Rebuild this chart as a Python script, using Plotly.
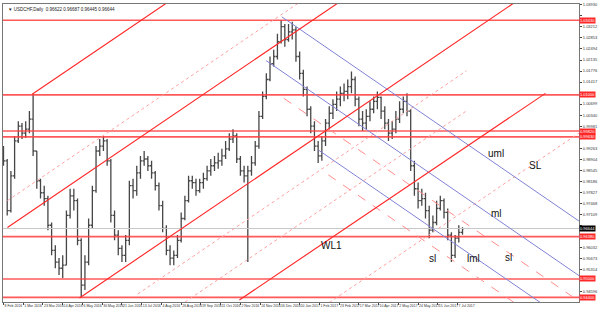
import plotly.graph_objects as go

# ---------------- price data (USDCHF daily, sampled every 3rd session) ----------------
bar_day = list(range(0, 375, 3))
closes = [0.9885, 0.9723, 0.9836, 0.9950, 0.9998, 0.9975, 0.9988, 1.0021, 0.9917, 0.9820,
          0.9781, 0.9762, 0.9675, 0.9593, 0.9555, 0.9535, 0.9545, 0.9707, 0.9771, 0.9755,
          0.9626, 0.9480, 0.9555, 0.9675, 0.9788, 0.9917, 0.9933, 0.9950, 0.9885, 0.9707,
          0.9643, 0.9600, 0.9577, 0.9626, 0.9804, 0.9788, 0.9846, 0.9885, 0.9891, 0.9869,
          0.9846, 0.9804, 0.9739, 0.9665, 0.9593, 0.9568, 0.9577, 0.9626, 0.9697, 0.9755,
          0.9820, 0.9814, 0.9788, 0.9814, 0.9827, 0.9852, 0.9869, 0.9878, 0.9885, 0.9901,
          0.9924, 0.9956, 0.9966, 0.9891, 0.9852, 0.9836, 0.9852, 0.9878, 0.9933, 1.0030,
          1.0095, 1.0150, 1.0202, 1.0225, 1.0273, 1.0322, 1.0280, 1.0305, 1.0312, 1.0225,
          1.0170, 1.0118, 1.0053, 0.9998, 0.9933, 0.9901, 0.9950, 1.0008, 1.0040, 1.0069,
          1.0086, 1.0105, 1.0111, 1.0127, 1.0150, 1.0086, 1.0021, 1.0008, 1.0030, 1.0053,
          1.0079, 1.0092, 1.0047, 1.0008, 0.9975, 0.9988, 1.0021, 1.0053, 1.0079, 1.0047,
          0.9869, 0.9794, 0.9755, 0.9762, 0.9723, 0.9659, 0.9684, 0.9730, 0.9755, 0.9717,
          0.9643, 0.9577, 0.9633, 0.9652, 0.96644]
highs = [0.9933, 0.9891, 0.9852, 0.9966, 1.0014, 1.0008, 1.0014, 1.0047, 1.0102, 0.9917,
         0.9827, 0.9804, 0.9771, 0.9684, 0.9610, 0.9568, 0.9577, 0.9723, 0.9794, 0.9794,
         0.9762, 0.9633, 0.9577, 0.9697, 0.9804, 0.9933, 0.9956, 0.9966, 0.9956, 0.9891,
         0.9723, 0.9659, 0.9610, 0.9643, 0.9820, 0.9827, 0.9869, 0.9901, 0.9917, 0.9901,
         0.9885, 0.9852, 0.9814, 0.9755, 0.9675, 0.9610, 0.9593, 0.9643, 0.9717, 0.9771,
         0.9836, 0.9836, 0.9827, 0.9827, 0.9846, 0.9869, 0.9891, 0.9901, 0.9911, 0.9924,
         0.9950, 0.9975, 0.9988, 0.9975, 0.9901, 0.9869, 0.9869, 0.9901, 0.9950, 1.0047,
         1.0111, 1.0170, 1.0225, 1.0247, 1.0299, 1.0344, 1.0331, 1.0331, 1.0338, 1.0322,
         1.0241, 1.0182, 1.0127, 1.0063, 1.0014, 0.9950, 0.9966, 1.0021, 1.0063, 1.0086,
         1.0111, 1.0127, 1.0137, 1.0150, 1.0176, 1.0160, 1.0095, 1.0047, 1.0053, 1.0079,
         1.0095, 1.0111, 1.0095, 1.0063, 1.0021, 1.0014, 1.0047, 1.0079, 1.0095, 1.0105,
         1.0053, 0.9885, 0.9814, 0.9794, 0.9781, 0.9739, 0.9707, 0.9755, 0.9771, 0.9762,
         0.9730, 0.9652, 0.9643, 0.9675, 0.96687]
lows = [0.9869, 0.9707, 0.9717, 0.9827, 0.9943, 0.9956, 0.9959, 0.9975, 0.9901, 0.9794,
        0.9762, 0.9739, 0.9659, 0.9577, 0.9535, 0.9513, 0.9503, 0.9545, 0.9697, 0.9723,
        0.9610, 0.9442, 0.9464, 0.9545, 0.9665, 0.9781, 0.9901, 0.9917, 0.9869, 0.9684,
        0.9626, 0.9577, 0.9555, 0.9555, 0.9610, 0.9762, 0.9771, 0.9827, 0.9869, 0.9852,
        0.9827, 0.9788, 0.9723, 0.9652, 0.9577, 0.9545, 0.9545, 0.9568, 0.9619, 0.9691,
        0.9749, 0.9794, 0.9771, 0.9781, 0.9794, 0.9820, 0.9836, 0.9852, 0.9859, 0.9869,
        0.9891, 0.9917, 0.9943, 0.9878, 0.9836, 0.9814, 0.9555, 0.9836, 0.9869, 0.9924,
        1.0021, 1.0086, 1.0144, 1.0192, 1.0215, 1.0267, 1.0257, 1.0273, 1.0280, 1.0208,
        1.0150, 1.0095, 1.0030, 0.9975, 0.9917, 0.9878, 0.9885, 0.9933, 0.9988, 1.0021,
        1.0047, 1.0063, 1.0079, 1.0086, 1.0105, 1.0063, 0.9998, 0.9982, 0.9988, 1.0014,
        1.0040, 1.0053, 1.0021, 0.9988, 0.9950, 0.9956, 0.9975, 1.0008, 1.0040, 1.0030,
        0.9852, 0.9771, 0.9730, 0.9739, 0.9697, 0.9633, 0.9652, 0.9675, 0.9723, 0.9697,
        0.9626, 0.9555, 0.9568, 0.9619, 0.96445]
opens = [0.9917] + closes[:-1]

# ---------------- axis labels ----------------
date_tick_pos = list(range(0, 369, 16))
date_tick_text = ["8 Feb 2016", "1 Mar 2016", "23 Mar 2016", "14 Apr 2016", "6 May 2016",
                  "30 May 2016", "21 Jun 2016", "13 Jul 2016", "4 Aug 2016", "26 Aug 2016",
                  "19 Sep 2016", "11 Oct 2016", "2 Nov 2016", "24 Nov 2016", "16 Dec 2016",
                  "10 Jan 2017", "1 Feb 2017", "23 Feb 2017", "17 Mar 2017", "10 Apr 2017",
                  "2 May 2017", "24 May 2017", "15 Jun 2017", "7 Jul 2017"]
price_ticks = [1.03930, 1.03571, 1.03212, 1.02853, 1.02494, 1.02135, 1.01776, 1.01417,
               1.01058, 1.00699, 1.00340, 0.99981, 0.99622, 0.99263, 0.98904, 0.98545,
               0.98186, 0.97827, 0.97468, 0.97109, 0.96750, 0.96391, 0.96032, 0.95673,
               0.95314, 0.94955, 0.94596, 0.94237]

# ---------------- drawn objects ----------------
h_levels = [1.03430, 1.01000, 0.99820, 0.99630, 0.96380, 0.95000, 0.94400]
last_price = 0.96644

# rising red channel (solid)
chan_x0 = [23.2, 3.2, 61.6, 191.2]
chan_p0 = [1.01016, 0.96679, 0.94382, 0.94317]
chan_x1 = [160.0, 360.0, 440.0, 439.2]
chan_p1 = [1.04751, 1.06420, 1.04712, 1.01048]
# rising pink dotted lines
pdot_x0 = [3.2, 108.8, 147.2, 260.0]
pdot_p0 = [0.97553, 0.94511, 0.94252, 0.94121]
pdot_x1 = [260.0, 375.2, 375.2, 466.4]
pdot_p1 = [1.04564, 1.01784, 1.00476, 0.99756]
# descending pitchfork (blue): uml, ml, lml
fork_x0 = [225.6, 212.8, 255.2]
fork_p0 = [1.03540, 1.02116, 0.99203]
fork_x1 = [466.4, 466.4, 466.4]
fork_p1 = [0.96887, 0.95109, 0.93367]
# descending pink dashed warning lines
warn_x0 = [227.2, 263.2]
warn_p0 = [1.00886, 0.98394]
warn_x1 = [466.4, 466.4]
warn_p1 = [0.94277, 0.92780]

label_text = ["uml", "SL", "ml", "sl", "lml", "sl", "WL1"]
label_x = [399.2, 431.2, 399.2, 348.0, 380.8, 409.6, 265.6]
label_p = [0.99074, 0.98686, 0.97132, 0.95676, 0.95676, 0.95709, 0.96097]

X0, X1 = -0.4, 466.4
Y0, Y1 = 0.9425, 1.0396
FONT = "Liberation Sans, Arial"

fig = go.Figure()

def seg(x0, p0, x1, p1, color, width, dash="solid"):
    fig.add_trace(go.Scatter(x=[x0, x1], y=[p0, p1], mode="lines",
                             line=dict(color=color, width=width, dash=dash),
                             hoverinfo="skip", showlegend=False))

for lv in h_levels:
    seg(X0 - 5, lv, X1 + 5, lv, "rgba(255,60,60,0.85)", 1.6)
seg(X0 - 5, last_price, X1 + 5, last_price, "rgb(200,200,200)", 1)

for a, b, c, d in zip(pdot_x0, pdot_p0, pdot_x1, pdot_p1):
    seg(a, b, c, d, "rgb(255,160,160)", 1, "dot")
for a, b, c, d in zip(warn_x0, warn_p0, warn_x1, warn_p1):
    seg(a, b, c, d, "rgb(255,140,140)", 1, "dash")
for a, b, c, d in zip(fork_x0, fork_p0, fork_x1, fork_p1):
    seg(a, b, c, d, "rgb(130,130,215)", 1)
for a, b, c, d in zip(chan_x0, chan_p0, chan_x1, chan_p1):
    seg(a, b, c, d, "rgb(255,40,40)", 1.15)

fig.add_trace(go.Ohlc(x=bar_day, open=opens, high=highs, low=lows, close=closes,
                      increasing=dict(line=dict(color="#333333", width=1.3)),
                      decreasing=dict(line=dict(color="#333333", width=1.3)),
                      tickwidth=0.45, opacity=0.9, showlegend=False, hoverinfo="skip"))

# price labels that sit under a level box are hidden, as on the reference
boxed = h_levels + [last_price]
price_tick_text = ["" if min(abs(v - b) for b in boxed) < 0.0016 else f"{v:.5f}" for v in price_ticks]

annotations = []
for t, x, p in zip(label_text, label_x, label_p):
    annotations.append(dict(x=x, y=p, xref="x", yref="y", text=t, showarrow=False,
                            font=dict(family=FONT, size=10, color="#111")))
for lv in h_levels:
    annotations.append(dict(x=1.0, y=lv, xref="paper", yref="y", xanchor="left",
                            text=f"{lv:.5f}", showarrow=False, bgcolor="rgb(255,40,40)",
                            borderpad=0, font=dict(family=FONT, size=4, color="white")))
annotations.append(dict(x=1.0, y=last_price, xref="paper", yref="y", xanchor="left",
                        text=f"{last_price:.5f}", showarrow=False, bgcolor="black", borderpad=0,
                        font=dict(family=FONT, size=4, color="white")))
annotations.append(dict(x=0.005, y=0.995, xref="paper", yref="paper", xanchor="left", yanchor="top",
                        text="▼ USDCHF,Daily  0.96622 0.96687 0.96445 0.96644", showarrow=False,
                        font=dict(family=FONT, size=4.5, color="#222")))

fig.update_layout(
    width=600, height=313,
    margin=dict(l=2, r=16, t=2, b=11),
    paper_bgcolor="white", plot_bgcolor="white",
    showlegend=False,
    annotations=annotations,
    xaxis=dict(range=[X0, X1], rangeslider=dict(visible=False), showgrid=False, zeroline=False,
               tickmode="array", tickvals=date_tick_pos, ticktext=date_tick_text,
               tickangle=0, ticks="outside", ticklen=2, tickcolor="#444",
               ticklabelposition="outside right",
               tickfont=dict(family=FONT, size=3.5, color="#333"),
               showline=True, linecolor="#777", linewidth=1, mirror=True),
    yaxis=dict(range=[Y0, Y1], side="right", showgrid=False, zeroline=False,
               tickmode="array", tickvals=price_ticks, ticktext=price_tick_text,
               ticks="outside", ticklen=2, tickcolor="#444",
               tickfont=dict(family=FONT, size=4, color="#333"),
               showline=True, linecolor="#777", linewidth=1, mirror=True),
)

fig.write_html("out.html")
